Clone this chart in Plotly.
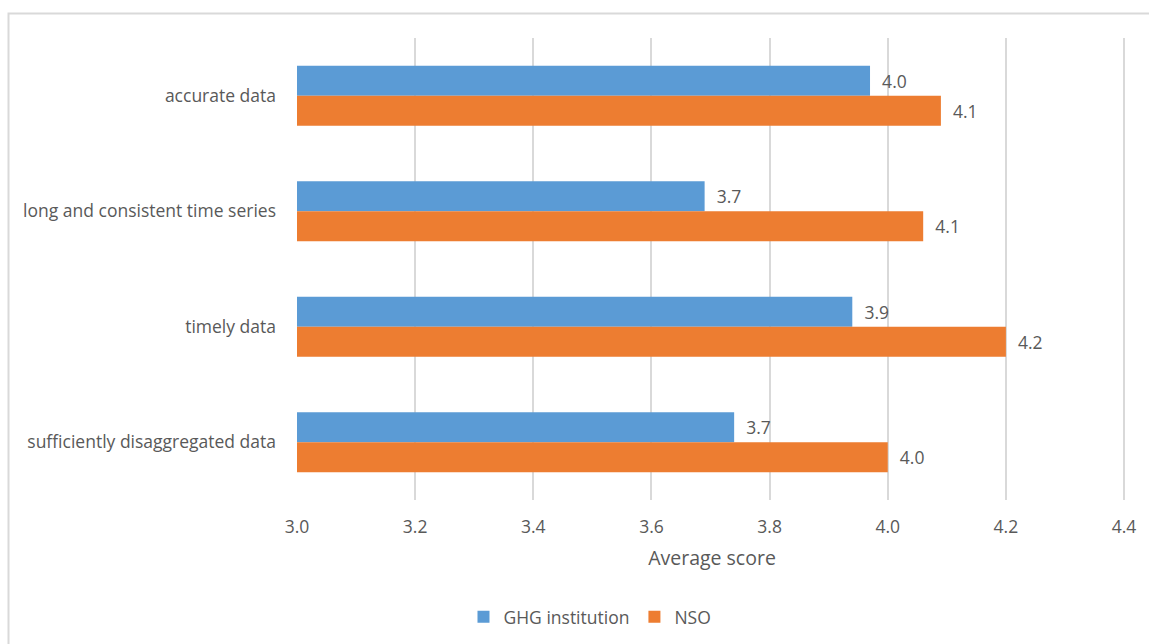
import plotly.graph_objects as go

# Survey results: average score per data quality aspect
categories = [
    "accurate data",
    "long and consistent time series",
    "timely data",
    "sufficiently disaggregated data",
]
ghg_institution = [3.97, 3.69, 3.94, 3.74]
nso = [4.09, 4.06, 4.20, 4.00]
x_ticks = [3.0, 3.2, 3.4, 3.6, 3.8, 4.0, 4.2, 4.4]

BLUE = "#5B9BD5"
ORANGE = "#ED7D31"
TEXT = "#595959"
GRID = "#D9D9D9"
FONT = "Open Sans"
SIZE = 17.5

fig = go.Figure()
for name, vals, color in [("GHG institution", ghg_institution, BLUE), ("NSO", nso, ORANGE)]:
    fig.add_trace(go.Bar(
        name=name,
        y=categories,
        x=vals,
        base=0,
        orientation="h",
        marker=dict(color=color, line=dict(width=0)),
        texttemplate="\u00a0\u00a0%{x:.1f}",
        textposition="outside",
        textfont=dict(family=FONT, size=SIZE, color=TEXT),
        cliponaxis=False,
    ))

fig.update_layout(
    width=1149,
    height=644,
    margin=dict(l=297, r=22, t=38, b=144, autoexpand=False),
    paper_bgcolor="white",
    plot_bgcolor="white",
    barmode="group",
    bargap=0.48,
    bargroupgap=0,
    font=dict(family=FONT, size=SIZE, color=TEXT),
    showlegend=True,
    legend=dict(
        orientation="h",
        x=0.353,
        xanchor="center",
        y=-0.253,
        yanchor="middle",
        font=dict(family=FONT, size=SIZE, color=TEXT),
        itemwidth=30,
        traceorder="normal",
    ),
    xaxis=dict(
        range=[3.0, 4.405],
        tickvals=x_ticks,
        ticktext=[f"{v:.1f}" for v in x_ticks],
        showgrid=True,
        gridcolor=GRID,
        gridwidth=1.5,
        zeroline=False,
        showline=False,
        ticks="",
        automargin=False,
        ticklabelstandoff=14,
        tickfont=dict(family=FONT, size=SIZE, color=TEXT),
        title=dict(text="Average score", standoff=14,
                   font=dict(family=FONT, size=19.5, color=TEXT)),
    ),
    yaxis=dict(
        autorange="reversed",
        showgrid=False,
        zeroline=False,
        showline=False,
        ticks="",
        automargin=False,
        ticklabelstandoff=20,
        tickfont=dict(family=FONT, size=SIZE, color=TEXT),
    ),
    shapes=[
        dict(type="rect", xref="paper", yref="paper",
             x0=(8.5 - 297) / 830, x1=(1160 - 297) / 830,
             y0=(500 - 660) / 462, y1=(500 - 13.5) / 462,
             line=dict(color=GRID, width=2), fillcolor="rgba(0,0,0,0)",
             layer="below"),
    ],
)

fig.write_html("out.html")
